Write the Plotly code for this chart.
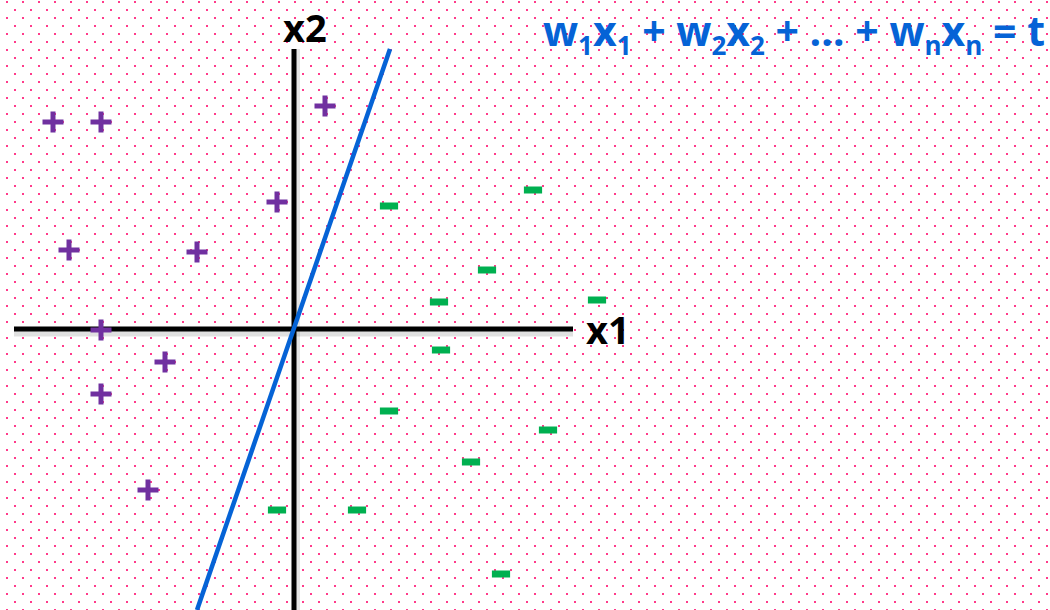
import base64
import plotly.graph_objects as go

# ---- data (offsets in px-like units from the origin of the x1/x2 axes) ----
plus_x = [-241, -193, 31, -17, -225, -97, -193, -129, -193, -146]
plus_y = [207, 207, 223, 127, 79, 77, -1, -33, -65, -161]

minus_x = [95, 239, 193, 145, 303, 147, 95, 254, 177, -17, 63, 207]
minus_y = [123, 139, 59, 27, 29, -21, -82, -101, -133, -181, -181, -245]

boundary_x = [-97, 96]
boundary_y = [-281, 280]

h_axis_x = [-280, 279]
h_axis_y = [0, 0]
v_axis_x = [0, 0]
v_axis_y = [-281, 280]

subs = ["1", "1", "2", "2", "n", "n"]

W, H = 1050, 610
X_RANGE = [-294, 756]
Y_RANGE = [-281, 329]

PURPLE = "#7030A0"
GREEN = "#00B050"
BLUE = "#0563D6"
DOT = "#FF3B8B"


def sub(s):
    return f'<sub><span style="font-size:26px">{s}</span></sub>'


formula = (f"w{sub(subs[0])}x{sub(subs[1])} + w{sub(subs[2])}x{sub(subs[3])}"
           f" + … + w{sub(subs[4])}x{sub(subs[5])} = t")

# dotted background pattern
svg = (
    f'<svg xmlns="http://www.w3.org/2000/svg" width="{W}" height="{H}">'
    '<defs><pattern id="p" width="16" height="16" patternUnits="userSpaceOnUse">'
    f'<rect x="6" y="1" width="2" height="2" fill="{DOT}"/>'
    f'<rect x="14" y="9" width="2" height="2" fill="{DOT}"/>'
    '</pattern></defs>'
    f'<rect width="{W}" height="{H}" fill="url(#p)"/></svg>'
)
bg_src = "data:image/svg+xml;base64," + base64.b64encode(svg.encode()).decode()

fig = go.Figure()

# axis shadows
fig.add_trace(go.Scatter(x=h_axis_x, y=[v - 4 for v in h_axis_y], mode="lines",
                         line=dict(color="rgba(0,0,0,0.12)", width=7),
                         hoverinfo="skip", showlegend=False))
fig.add_trace(go.Scatter(x=[v + 3 for v in v_axis_x], y=v_axis_y, mode="lines",
                         line=dict(color="rgba(0,0,0,0.10)", width=6),
                         hoverinfo="skip", showlegend=False))
# axes
fig.add_trace(go.Scatter(x=h_axis_x, y=h_axis_y, mode="lines",
                         line=dict(color="black", width=5),
                         hoverinfo="skip", showlegend=False))
fig.add_trace(go.Scatter(x=v_axis_x, y=v_axis_y, mode="lines",
                         line=dict(color="black", width=5),
                         hoverinfo="skip", showlegend=False))
# decision boundary
fig.add_trace(go.Scatter(x=boundary_x, y=boundary_y, mode="lines",
                         line=dict(color=BLUE, width=4.5),
                         hoverinfo="skip", showlegend=False))
# points
fig.add_trace(go.Scatter(x=plus_x, y=plus_y, mode="markers",
                         marker=dict(symbol="cross-thin", size=15,
                                     line=dict(color=PURPLE, width=5)),
                         showlegend=False))
fig.add_trace(go.Scatter(x=minus_x, y=minus_y, mode="markers",
                         marker=dict(symbol="line-ew", size=13,
                                     line=dict(color=GREEN, width=7)),
                         showlegend=False))

fig.add_annotation(x=11, y=302, text="x2", showarrow=False, borderpad=0,
                   font=dict(family="Open Sans", size=38, color="black", weight="bold"),
                   xanchor="center", yanchor="middle")
fig.add_annotation(x=314, y=0, text="x1", showarrow=False, borderpad=0,
                   font=dict(family="Open Sans", size=38, color="black", weight="bold"),
                   xanchor="center", yanchor="middle")
fig.add_annotation(x=752, y=297, text=formula, showarrow=False, borderpad=0,
                   font=dict(family="Open Sans", size=41, color=BLUE, weight="bold"),
                   xanchor="right", yanchor="middle")

fig.update_layout(
    width=W, height=H,
    margin=dict(l=0, r=0, t=0, b=0),
    paper_bgcolor="white",
    plot_bgcolor="rgba(0,0,0,0)",
    xaxis=dict(range=X_RANGE, visible=False, fixedrange=True),
    yaxis=dict(range=Y_RANGE, visible=False, fixedrange=True),
    images=[dict(source=bg_src, xref="paper", yref="paper", x=0, y=1,
                 sizex=1, sizey=1, xanchor="left", yanchor="top",
                 sizing="stretch", layer="below")],
)

fig.write_html("out.html", config={"displayModeBar": False},
               post_script="document.body.style.margin='0';")
